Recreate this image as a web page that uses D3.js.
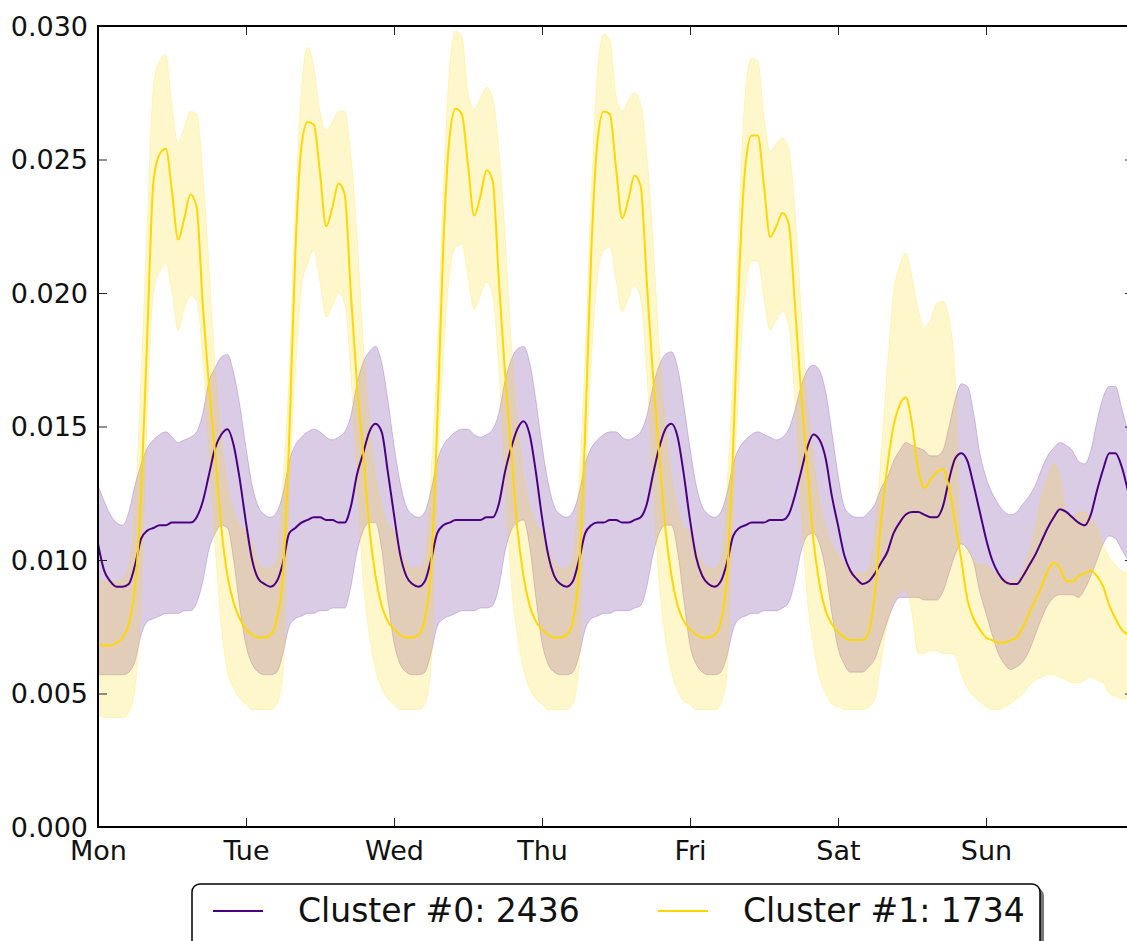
<!DOCTYPE html>
<html>
<head>
<meta charset="utf-8">
<script src="https://cdn.jsdelivr.net/npm/d3@7"></script>
<style>
  body { margin: 0; background: #fff; }
  svg { display: block; font-family: 'DejaVu Sans', sans-serif; }
</style>
</head>
<body>
<div id="chart"></div>
<script>
/* global d3 */

const days = ['Mon', 'Tue', 'Wed', 'Thu', 'Fri', 'Sat', 'Sun']
const yTicks = [0, 0.005, 0.010, 0.015, 0.020, 0.025, 0.030]
const clusterNames = ['Cluster #0', 'Cluster #1']
const clusterSizes = [2436, 1734]
const clusterColors = ['#4b0082', '#ffd700']

// hourly values, one row per day (Mon..Sun)
const c0Mean = [
  0.0106, 0.0096, 0.0092, 0.0090, 0.0090, 0.0091, 0.0098, 0.0108, 0.0111, 0.0112, 0.0113, 0.0113, 0.0114, 0.0114, 0.0114, 0.0114, 0.0116, 0.0122, 0.0132, 0.0142, 0.0147, 0.0149, 0.0143, 0.0130,
  0.0114, 0.0100, 0.0093, 0.0091, 0.0090, 0.0092, 0.0099, 0.0110, 0.0112, 0.0114, 0.0115, 0.0116, 0.0116, 0.0115, 0.0115, 0.0114, 0.0114, 0.0120, 0.0132, 0.0140, 0.0148, 0.0151, 0.0148, 0.0133,
  0.0117, 0.0102, 0.0094, 0.0091, 0.0090, 0.0092, 0.0100, 0.0110, 0.0113, 0.0114, 0.0115, 0.0115, 0.0115, 0.0115, 0.0115, 0.0116, 0.0116, 0.0121, 0.0133, 0.0142, 0.0149, 0.0152, 0.0147, 0.0133,
  0.0116, 0.0102, 0.0094, 0.0091, 0.0090, 0.0092, 0.0100, 0.0110, 0.0113, 0.0114, 0.0114, 0.0115, 0.0115, 0.0114, 0.0114, 0.0115, 0.0116, 0.0121, 0.0132, 0.0142, 0.0149, 0.0151, 0.0146, 0.0132,
  0.0115, 0.0101, 0.0094, 0.0091, 0.0090, 0.0092, 0.0099, 0.0109, 0.0112, 0.0113, 0.0114, 0.0114, 0.0114, 0.0115, 0.0115, 0.0115, 0.0117, 0.0124, 0.0133, 0.0142, 0.0147, 0.0145, 0.0138, 0.0124,
  0.0113, 0.0102, 0.0096, 0.0093, 0.0091, 0.0092, 0.0095, 0.0099, 0.0103, 0.0110, 0.0114, 0.0117, 0.0118, 0.0118, 0.0117, 0.0116, 0.0116, 0.0120, 0.0130, 0.0138, 0.0140, 0.0137, 0.0128, 0.0118,
  0.0108, 0.0100, 0.0095, 0.0092, 0.0091, 0.0091, 0.0094, 0.0098, 0.0102, 0.0107, 0.0112, 0.0116, 0.0119, 0.0118, 0.0116, 0.0114, 0.0113, 0.0117, 0.0126, 0.0134, 0.0140, 0.0140, 0.0135, 0.0126
]
const c0Upper = [
  0.0128, 0.0122, 0.0117, 0.0114, 0.0113, 0.0118, 0.0128, 0.0136, 0.0142, 0.0145, 0.0147, 0.0148, 0.0146, 0.0144, 0.0145, 0.0146, 0.0148, 0.0155, 0.0167, 0.0172, 0.0176, 0.0177, 0.0170, 0.0158,
  0.0142, 0.0128, 0.0120, 0.0117, 0.0116, 0.0118, 0.0125, 0.0137, 0.0143, 0.0146, 0.0148, 0.0149, 0.0148, 0.0146, 0.0145, 0.0146, 0.0148, 0.0154, 0.0166, 0.0174, 0.0178, 0.0180, 0.0174, 0.0160,
  0.0143, 0.0129, 0.0120, 0.0117, 0.0116, 0.0118, 0.0126, 0.0137, 0.0143, 0.0146, 0.0148, 0.0149, 0.0149, 0.0147, 0.0146, 0.0147, 0.0149, 0.0155, 0.0167, 0.0175, 0.0179, 0.0180, 0.0174, 0.0160,
  0.0143, 0.0129, 0.0120, 0.0117, 0.0116, 0.0118, 0.0125, 0.0136, 0.0142, 0.0145, 0.0147, 0.0148, 0.0148, 0.0146, 0.0145, 0.0146, 0.0148, 0.0154, 0.0165, 0.0173, 0.0177, 0.0178, 0.0172, 0.0158,
  0.0142, 0.0128, 0.0120, 0.0117, 0.0116, 0.0118, 0.0125, 0.0136, 0.0142, 0.0145, 0.0147, 0.0148, 0.0147, 0.0146, 0.0145, 0.0146, 0.0149, 0.0156, 0.0165, 0.0171, 0.0173, 0.0171, 0.0163, 0.0148,
  0.0132, 0.0120, 0.0117, 0.0116, 0.0116, 0.0118, 0.0121, 0.0127, 0.0131, 0.0137, 0.0141, 0.0144, 0.0143, 0.0142, 0.0141, 0.0139, 0.0139, 0.0141, 0.0150, 0.0160, 0.0166, 0.0165, 0.0155, 0.0140,
  0.0131, 0.0125, 0.0121, 0.0118, 0.0117, 0.0118, 0.0121, 0.0124, 0.0128, 0.0134, 0.0139, 0.0142, 0.0144, 0.0143, 0.0141, 0.0137, 0.0136, 0.0141, 0.0152, 0.0161, 0.0165, 0.0165, 0.0157, 0.0148
]
const c0Lower = [
  0.0057, 0.0057, 0.0057, 0.0057, 0.0057, 0.0058, 0.0062, 0.0072, 0.0077, 0.0078, 0.0079, 0.0080, 0.0080, 0.0080, 0.0081, 0.0081, 0.0084, 0.0092, 0.0104, 0.0110, 0.0113, 0.0112, 0.0100, 0.0082,
  0.0068, 0.0061, 0.0058, 0.0057, 0.0057, 0.0058, 0.0065, 0.0075, 0.0078, 0.0079, 0.0080, 0.0080, 0.0081, 0.0081, 0.0082, 0.0082, 0.0082, 0.0090, 0.0103, 0.0111, 0.0114, 0.0114, 0.0104, 0.0085,
  0.0069, 0.0061, 0.0058, 0.0057, 0.0057, 0.0058, 0.0065, 0.0075, 0.0078, 0.0079, 0.0080, 0.0081, 0.0081, 0.0081, 0.0082, 0.0082, 0.0083, 0.0090, 0.0103, 0.0111, 0.0114, 0.0115, 0.0105, 0.0086,
  0.0069, 0.0061, 0.0058, 0.0057, 0.0057, 0.0058, 0.0064, 0.0074, 0.0078, 0.0079, 0.0080, 0.0080, 0.0081, 0.0081, 0.0081, 0.0082, 0.0083, 0.0090, 0.0102, 0.0110, 0.0113, 0.0113, 0.0103, 0.0085,
  0.0068, 0.0061, 0.0058, 0.0057, 0.0057, 0.0058, 0.0064, 0.0074, 0.0078, 0.0079, 0.0080, 0.0080, 0.0081, 0.0081, 0.0081, 0.0082, 0.0084, 0.0092, 0.0103, 0.0109, 0.0110, 0.0106, 0.0096, 0.0080,
  0.0067, 0.0061, 0.0058, 0.0058, 0.0058, 0.0060, 0.0063, 0.0070, 0.0077, 0.0083, 0.0086, 0.0086, 0.0086, 0.0086, 0.0085, 0.0085, 0.0085, 0.0088, 0.0095, 0.0102, 0.0106, 0.0104, 0.0099, 0.0088,
  0.0080, 0.0072, 0.0065, 0.0061, 0.0059, 0.0060, 0.0062, 0.0066, 0.0072, 0.0078, 0.0083, 0.0086, 0.0087, 0.0087, 0.0087, 0.0086, 0.0089, 0.0094, 0.0100, 0.0106, 0.0109, 0.0108, 0.0104, 0.0100
]
const c1Mean = [
  0.0069, 0.0068, 0.0068, 0.0069, 0.0071, 0.0076, 0.0090, 0.0125, 0.0185, 0.0242, 0.0252, 0.0254, 0.0238, 0.0220, 0.0228, 0.0237, 0.0232, 0.0195, 0.0165, 0.0140, 0.0112, 0.0094, 0.0084, 0.0078,
  0.0074, 0.0072, 0.0071, 0.0071, 0.0072, 0.0078, 0.0095, 0.0145, 0.0215, 0.0255, 0.0264, 0.0263, 0.0245, 0.0225, 0.0232, 0.0241, 0.0237, 0.0200, 0.0166, 0.0140, 0.0112, 0.0094, 0.0083, 0.0077,
  0.0074, 0.0072, 0.0071, 0.0071, 0.0072, 0.0078, 0.0097, 0.0150, 0.0218, 0.0258, 0.0269, 0.0267, 0.0248, 0.0229, 0.0236, 0.0246, 0.0242, 0.0205, 0.0170, 0.0141, 0.0112, 0.0094, 0.0083, 0.0077,
  0.0074, 0.0072, 0.0071, 0.0071, 0.0072, 0.0077, 0.0096, 0.0148, 0.0216, 0.0257, 0.0268, 0.0267, 0.0247, 0.0228, 0.0235, 0.0244, 0.0240, 0.0204, 0.0169, 0.0140, 0.0112, 0.0094, 0.0083, 0.0077,
  0.0074, 0.0072, 0.0071, 0.0071, 0.0072, 0.0077, 0.0094, 0.0142, 0.0208, 0.0248, 0.0259, 0.0259, 0.0240, 0.0221, 0.0225, 0.0230, 0.0226, 0.0196, 0.0163, 0.0135, 0.0108, 0.0091, 0.0081, 0.0076,
  0.0073, 0.0071, 0.0070, 0.0070, 0.0070, 0.0073, 0.0088, 0.0115, 0.0135, 0.0150, 0.0158, 0.0161, 0.0151, 0.0134, 0.0127, 0.0130, 0.0133, 0.0134, 0.0127, 0.0114, 0.0100, 0.0085, 0.0078, 0.0074,
  0.0071, 0.0070, 0.0069, 0.0069, 0.0070, 0.0071, 0.0075, 0.0080, 0.0085, 0.0090, 0.0096, 0.0099, 0.0097, 0.0092, 0.0092, 0.0094, 0.0095, 0.0096, 0.0094, 0.0090, 0.0083, 0.0078, 0.0074, 0.0072
]
const c1Upper = [
  0.0092, 0.0092, 0.0092, 0.0092, 0.0093, 0.0097, 0.0120, 0.0170, 0.0227, 0.0278, 0.0287, 0.0289, 0.0270, 0.0256, 0.0262, 0.0268, 0.0267, 0.0245, 0.0210, 0.0172, 0.0146, 0.0128, 0.0118, 0.0113,
  0.0111, 0.0106, 0.0099, 0.0097, 0.0097, 0.0100, 0.0130, 0.0170, 0.0232, 0.0277, 0.0292, 0.0285, 0.0268, 0.0261, 0.0264, 0.0268, 0.0268, 0.0252, 0.0222, 0.0182, 0.0152, 0.0132, 0.0120, 0.0113,
  0.0111, 0.0104, 0.0099, 0.0097, 0.0097, 0.0101, 0.0132, 0.0178, 0.0240, 0.0284, 0.0298, 0.0296, 0.0275, 0.0269, 0.0273, 0.0277, 0.0273, 0.0254, 0.0222, 0.0182, 0.0152, 0.0132, 0.0120, 0.0113,
  0.0111, 0.0104, 0.0099, 0.0097, 0.0097, 0.0101, 0.0130, 0.0176, 0.0238, 0.0283, 0.0297, 0.0295, 0.0274, 0.0268, 0.0272, 0.0275, 0.0271, 0.0252, 0.0220, 0.0180, 0.0151, 0.0131, 0.0119, 0.0112,
  0.0111, 0.0104, 0.0099, 0.0097, 0.0097, 0.0100, 0.0128, 0.0172, 0.0232, 0.0276, 0.0288, 0.0287, 0.0266, 0.0253, 0.0256, 0.0258, 0.0254, 0.0232, 0.0195, 0.0160, 0.0138, 0.0122, 0.0112, 0.0106,
  0.0102, 0.0099, 0.0096, 0.0095, 0.0095, 0.0097, 0.0112, 0.0140, 0.0172, 0.0200, 0.0210, 0.0215, 0.0206, 0.0194, 0.0187, 0.0190, 0.0196, 0.0197, 0.0191, 0.0168, 0.0106, 0.0104, 0.0100, 0.0098,
  0.0098, 0.0096, 0.0094, 0.0093, 0.0092, 0.0093, 0.0096, 0.0103, 0.0112, 0.0124, 0.0131, 0.0136, 0.0131, 0.0118, 0.0116, 0.0118, 0.0118, 0.0116, 0.0112, 0.0106, 0.0101, 0.0098, 0.0096, 0.0095
]
const c1Lower = [
  0.0042, 0.0041, 0.0041, 0.0041, 0.0041, 0.0043, 0.0052, 0.0086, 0.0155, 0.0200, 0.0208, 0.0211, 0.0200, 0.0186, 0.0194, 0.0199, 0.0197, 0.0175, 0.0140, 0.0105, 0.0075, 0.0058, 0.0052, 0.0048,
  0.0046, 0.0044, 0.0044, 0.0044, 0.0044, 0.0046, 0.0058, 0.0125, 0.0170, 0.0202, 0.0211, 0.0216, 0.0204, 0.0191, 0.0195, 0.0200, 0.0196, 0.0170, 0.0130, 0.0092, 0.0072, 0.0059, 0.0052, 0.0048,
  0.0046, 0.0044, 0.0044, 0.0044, 0.0044, 0.0046, 0.0060, 0.0128, 0.0175, 0.0207, 0.0217, 0.0218, 0.0206, 0.0194, 0.0199, 0.0204, 0.0199, 0.0172, 0.0130, 0.0092, 0.0072, 0.0059, 0.0052, 0.0048,
  0.0046, 0.0044, 0.0044, 0.0044, 0.0044, 0.0046, 0.0060, 0.0126, 0.0174, 0.0206, 0.0216, 0.0217, 0.0205, 0.0193, 0.0198, 0.0203, 0.0198, 0.0170, 0.0128, 0.0091, 0.0071, 0.0058, 0.0051, 0.0047,
  0.0046, 0.0044, 0.0044, 0.0044, 0.0044, 0.0046, 0.0058, 0.0122, 0.0168, 0.0202, 0.0212, 0.0212, 0.0198, 0.0186, 0.0190, 0.0193, 0.0188, 0.0160, 0.0120, 0.0086, 0.0068, 0.0056, 0.0050, 0.0046,
  0.0045, 0.0044, 0.0044, 0.0044, 0.0044, 0.0045, 0.0048, 0.0062, 0.0076, 0.0084, 0.0088, 0.0089, 0.0080, 0.0065, 0.0065, 0.0066, 0.0066, 0.0065, 0.0065, 0.0064, 0.0057, 0.0052, 0.0049, 0.0047,
  0.0045, 0.0044, 0.0044, 0.0045, 0.0046, 0.0048, 0.0050, 0.0053, 0.0055, 0.0056, 0.0057, 0.0057, 0.0056, 0.0055, 0.0054, 0.0054, 0.0055, 0.0056, 0.0055, 0.0054, 0.0050, 0.0049, 0.0048, 0.0048
]

const svgWidth = 1127
const svgHeight = 941
const margin = {top: 26, left: 98}
const width = 1036
const height = 801

const svg = d3.select('#chart').append('svg')
  .attr('width', svgWidth)
  .attr('height', svgHeight)

const x = d3.scaleLinear().domain([0, 168]).range([0, width])
const y = d3.scaleLinear().domain([0, 0.030]).range([height, 0])

const g = svg.append('g')
  .attr('transform', 'translate(' + margin.left + ',' + margin.top + ')')

g.append('clipPath').attr('id', 'plot-clip')
  .append('rect').attr('width', width).attr('height', height)

const plot = g.append('g').attr('clip-path', 'url(#plot-clip)')

const clusters = [
  {mean: c0Mean, upper: c0Upper, lower: c0Lower},
  {mean: c1Mean, upper: c1Upper, lower: c1Lower}
]

const band = d3.area()
  .x((d, i) => x(i))
  .y0(d => y(d[0]))
  .y1(d => y(d[1]))
  .curve(d3.curveMonotoneX)

const line = d3.line()
  .x((d, i) => x(i))
  .y(d => y(d))
  .curve(d3.curveMonotoneX)

clusters.forEach((c, k) => {
  plot.append('path')
    .datum(c.lower.map((v, i) => [v, c.upper[i]]))
    .attr('fill', clusterColors[k])
    .attr('fill-opacity', 0.2)
    .attr('stroke', clusterColors[k])
    .attr('stroke-opacity', 0.2)
    .attr('stroke-width', 1)
    .attr('d', band)
})

clusters.forEach((c, k) => {
  plot.append('path')
    .datum(c.mean)
    .attr('fill', 'none')
    .attr('stroke', clusterColors[k])
    .attr('stroke-width', 2)
    .attr('d', line)
})

// axes, ticks pointing inward on all four sides
const dayTicks = days.map((d, i) => i * 24)
const tickFont = 27

const xAxis = g.append('g')
  .attr('transform', 'translate(0,' + height + ')')
  .call(d3.axisBottom(x).tickValues(dayTicks).tickSize(-9).tickPadding(12)
    .tickFormat((d, i) => days[i]))
g.append('g')
  .call(d3.axisTop(x).tickValues(dayTicks).tickSize(-9).tickFormat(''))

const yAxis = g.append('g')
  .call(d3.axisLeft(y).tickValues(yTicks).tickSize(-9).tickPadding(10)
    .tickFormat(d3.format('.3f')))
g.append('g')
  .attr('transform', 'translate(' + width + ',0)')
  .call(d3.axisRight(y).tickValues(yTicks).tickSize(-9).tickFormat(''))

g.selectAll('.domain').remove()
g.selectAll('.tick line').attr('stroke', '#222').attr('stroke-width', 1)
g.selectAll('.tick text')
  .attr('fill', '#111')
  .style('font-family', "'DejaVu Sans', sans-serif")
  .style('font-size', tickFont + 'px')
xAxis.selectAll('.tick text').attr('dy', '0.76em')
yAxis.selectAll('.tick text').attr('dy', '0.34em')

g.append('rect')
  .attr('width', width)
  .attr('height', height)
  .attr('fill', 'none')
  .attr('stroke', '#000')
  .attr('stroke-width', 2)

// legend
const legend = svg.append('g').attr('transform', 'translate(192,884)')
legend.append('rect')
  .attr('x', 4).attr('y', 4)
  .attr('width', 848).attr('height', 70)
  .attr('rx', 8)
  .attr('fill', '#777')
legend.append('rect')
  .attr('width', 848).attr('height', 70)
  .attr('rx', 8)
  .attr('fill', '#fff')
  .attr('stroke', '#000')
  .attr('stroke-width', 1.5)

const entryX = [21, 466]
clusterNames.forEach((name, k) => {
  const item = legend.append('g').attr('transform', 'translate(' + entryX[k] + ',0)')
  item.append('line')
    .attr('x1', 0).attr('x2', 50)
    .attr('y1', 27).attr('y2', 27)
    .attr('stroke', clusterColors[k])
    .attr('stroke-width', 2)
  item.append('text')
    .attr('x', 85)
    .attr('y', 38)
    .attr('fill', '#111')
    .style('font-size', '33px')
    .text(name + ': ' + clusterSizes[k])
})
</script>
</body>
</html>
